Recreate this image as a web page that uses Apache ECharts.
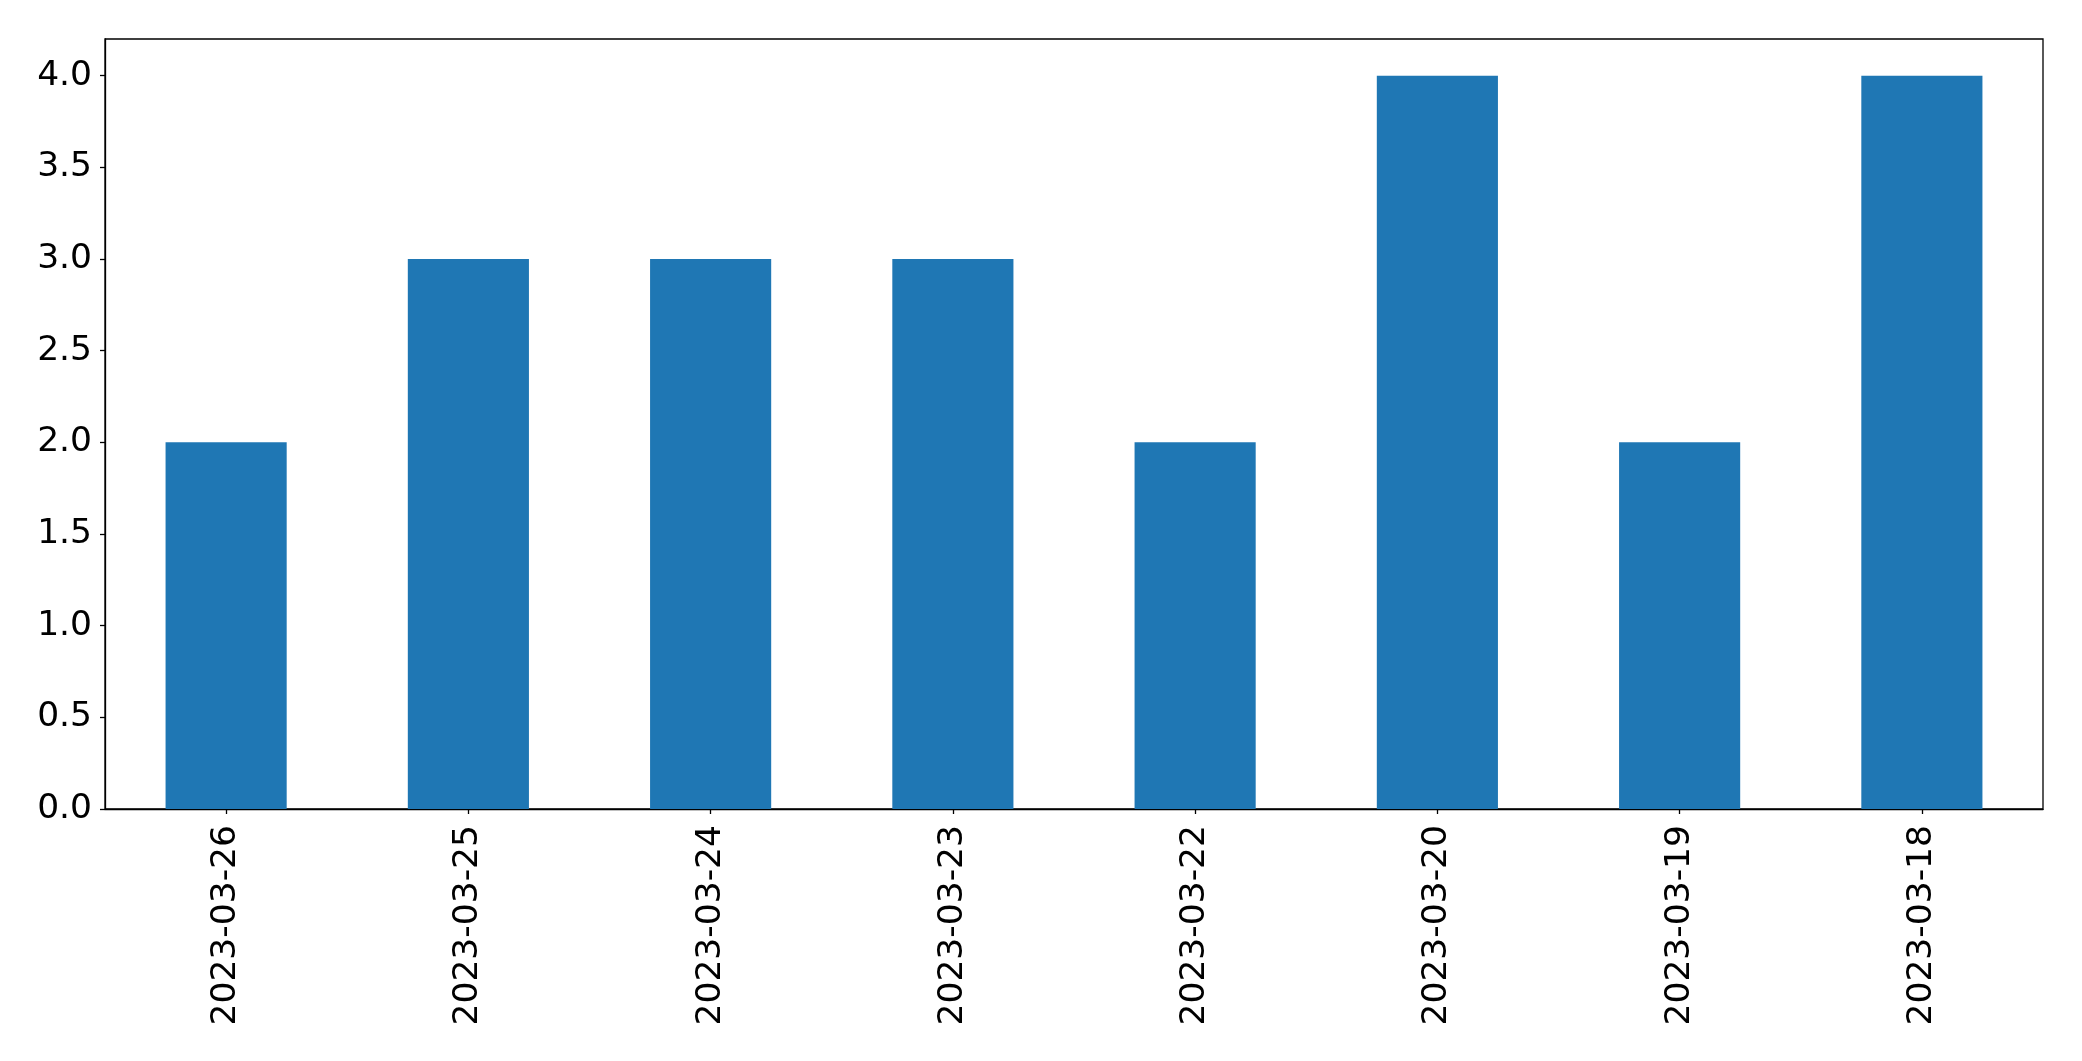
<!DOCTYPE html>
<html>
<head>
<meta charset="utf-8">
<style>
html,body{margin:0;padding:0;background:#fff;}
#chart{width:2082px;height:1061px;}
</style>
<script src="https://cdn.jsdelivr.net/npm/echarts@6/dist/echarts.min.js"></script>
</head>
<body>
<div id="chart"></div>
<script>
const categories = ['2023-03-26','2023-03-25','2023-03-24','2023-03-23','2023-03-22','2023-03-20','2023-03-19','2023-03-18'];
const values = [2, 3, 3, 3, 2, 4, 2, 4];
const yTickValues = [0, 0.5, 1.0, 1.5, 2.0, 2.5, 3.0, 3.5, 4.0];
const yRange = {min: 0, max: 4.2};

const chart = echarts.init(document.getElementById('chart'), null, {renderer: 'canvas'});
const font = 'DejaVu Sans';
chart.setOption({
  animation: false,
  backgroundColor: '#ffffff',
  grid: {left: 105, right: 39, top: 39, bottom: 252, containLabel: false,
         show: true, borderColor: '#000', borderWidth: 1.3, backgroundColor: 'transparent'},
  xAxis: {
    type: 'category',
    data: categories,
    axisLine: {show: true, lineStyle: {color: '#000', width: 1.3}},
    axisTick: {show: true, alignWithLabel: true, length: 5, lineStyle: {color: '#000', width: 1.3}},
    axisLabel: {rotate: 90, color: '#000', fontFamily: font, fontSize: 34.5, margin: 16, interval: 0},
    splitLine: {show: false}
  },
  yAxis: {
    type: 'value',
    min: yRange.min,
    max: yRange.max,
    axisLine: {show: true, lineStyle: {color: '#000', width: 1.3}},
    axisTick: {show: true, length: 5, customValues: yTickValues, lineStyle: {color: '#000', width: 1.3}},
    axisLabel: {color: '#000', fontFamily: font, fontSize: 34.5, margin: 13, customValues: yTickValues,
      formatter: v => v.toFixed(1)},
    splitLine: {show: false}
  },
  series: [{
    type: 'bar',
    data: values,
    barWidth: '50%',
    itemStyle: {color: '#1f77b4'}
  }]
});
</script>
</body>
</html>
